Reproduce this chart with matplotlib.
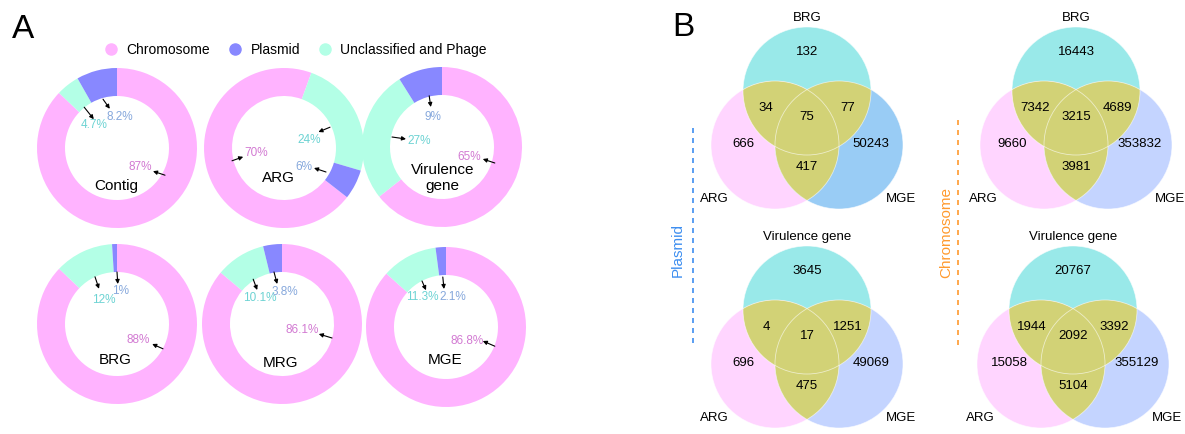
import matplotlib
matplotlib.use("Agg")
import matplotlib.pyplot as plt
from matplotlib.patches import Circle
from matplotlib.lines import Line2D

plt.rcParams["font.family"] = ["Liberation Sans", "DejaVu Sans"]

# ---- panel A data: share of each gene group on chromosome / plasmid / unclassified contigs
donut_names = ["Contig", "ARG", "Virulence\ngene", "BRG", "MRG", "MGE"]
chromosome_pct = [87, 70, 65, 88, 86.1, 86.8]
plasmid_pct = [8.2, 6, 9, 1, 3.8, 2.1]
unclassified_pct = [4.7, 24, 27, 12, 10.1, 11.3]
legend_labels = ["Chromosome", "Plasmid", "Unclassified and Phage"]

# ---- panel B data: region counts in order
# only top, only left, only right, top&left, top&right, left&right, all three
venn_regions = ["top", "left", "right", "top_left", "top_right", "left_right", "all"]
plasmid_brg = [132, 666, 50243, 34, 77, 417, 75]
chromosome_brg = [16443, 9660, 353832, 7342, 4689, 3981, 3215]
plasmid_vir = [3645, 696, 49069, 4, 1251, 475, 17]
chromosome_vir = [20767, 15058, 355129, 1944, 3392, 5104, 2092]

W, H = 1185, 434
C_CHR = "#FFB3FF"
C_PLA = "#8888FF"
C_UNC = "#B3FFE6"
T_CHR = "#D27AD2"
T_PLA = "#86A8DC"
T_UNC = "#6DD3D3"

fig = plt.figure(figsize=(W / 100, H / 100), dpi=100)
bg = fig.add_axes([0, 0, 1, 1])
bg.set_xlim(0, W)
bg.set_ylim(H, 0)
bg.axis("off")

bg.text(12, 30, "A", fontsize=24, ha="left", va="center")
bg.text(672, 27, "B", fontsize=24, ha="left", va="center")

# ---- donuts
R = 80
donut_centers = [(117, 148), (284, 148), (442, 147), (117, 324), (282, 324), (446, 327)]
# pie start angle (degrees, matplotlib convention)
start_angles = [90, -38, 90, 90, 90, 90]
# (tail, head, text) in units of the outer radius, for chromosome / plasmid / unclassified
label_layout = [
    [((0.60, -0.34), (0.45, -0.29), (0.29, -0.24)),
     ((-0.175, 0.61), (-0.09, 0.49), (0.03, 0.39)),
     ((-0.41, 0.51), (-0.29, 0.36), (-0.29, 0.29))],
    [((-0.65, -0.16), (-0.51, -0.11), (-0.35, -0.06)),
     ((0.525, -0.30), (0.375, -0.25), (0.25, -0.24)),
     ((0.575, 0.26), (0.43, 0.20), (0.31, 0.10))],
    [((0.66, -0.20), (0.51, -0.15), (0.34, -0.125)),
     ((-0.16, 0.64), (-0.14, 0.50), (-0.11, 0.375)),
     ((-0.625, 0.125), (-0.45, 0.10), (-0.29, 0.075))],
    [((0.575, -0.31), (0.44, -0.25), (0.26, -0.20)),
     ((0.0, 0.65), (0.01, 0.50), (0.05, 0.41)),
     ((-0.275, 0.59), (-0.225, 0.44), (-0.16, 0.30))],
    [((0.625, -0.175), (0.46, -0.125), (0.25, -0.075)),
     ((-0.10, 0.65), (-0.06, 0.50), (0.04, 0.40)),
     ((-0.36, 0.56), (-0.31, 0.425), (-0.275, 0.325))],
    [((0.61, -0.24), (0.46, -0.175), (0.26, -0.175)),
     ((-0.04, 0.625), (-0.025, 0.475), (0.09, 0.375)),
     ((-0.30, 0.575), (-0.25, 0.46), (-0.30, 0.375))],
]
name_pos = [(-0.01, -0.475), (-0.075, -0.375), (0.01, -0.39),
            (-0.025, -0.45), (-0.025, -0.49), (-0.01, -0.41)]

for i, name in enumerate(donut_names):
    cx, cy = donut_centers[i]
    ax = fig.add_axes([(cx - R) / W, (H - cy - R) / H, 2 * R / W, 2 * R / H])
    vals = [chromosome_pct[i], unclassified_pct[i], plasmid_pct[i]]
    ax.pie(vals, colors=[C_CHR, C_UNC, C_PLA], startangle=start_angles[i],
           counterclock=False, radius=1,
           wedgeprops=dict(width=0.35, edgecolor="none"))
    ax.set_xlim(-1, 1)
    ax.set_ylim(-1, 1)
    ax.set_aspect("auto")
    ax.axis("off")
    pcts = [chromosome_pct[i], plasmid_pct[i], unclassified_pct[i]]
    for (tail, head, txt), v, col in zip(label_layout[i], pcts, [T_CHR, T_PLA, T_UNC]):
        ax.annotate("", xy=head, xytext=tail,
                    arrowprops=dict(arrowstyle="-|>", color="black", lw=0.8,
                                    mutation_scale=6, shrinkA=0, shrinkB=0))
        ax.text(txt[0], txt[1], f"{v:g}%", color=col, fontsize=8.5,
                ha="center", va="center")
    ax.text(name_pos[i][0], name_pos[i][1], name, fontsize=11,
            ha="center", va="center", linespacing=1.2)

handles = [Line2D([], [], marker="o", ls="", color=c, markersize=8)
           for c in [C_CHR, C_PLA, C_UNC]]
fig.legend(handles, legend_labels, loc="center", bbox_to_anchor=(292 / W, 1 - 50 / H),
           ncol=3, frameon=False, fontsize=10, handletextpad=0.1, columnspacing=0.8)

# ---- Venn diagrams
VR = 64
OLIVE = "#D2D276"
C_BRG = "#99E9E9"
C_ARG = "#FFD5FF"
region_offsets = {
    "top": (0, 1.17), "left": (-1.0, -0.27), "right": (1.0, -0.27),
    "top_left": (-0.64, 0.30), "top_right": (0.64, 0.30),
    "left_right": (0, -0.625), "all": (0, 0.16),
}


def draw_venn(cx, cy, counts, top_name, mge_color):
    centers = [(cx, cy - 36), (cx - 32, cy + 18), (cx + 32, cy + 18)]
    for (x, y), col in zip(centers, [C_BRG, C_ARG, mge_color]):
        bg.add_patch(Circle((x, y), VR, fc=col, ec="none", zorder=1))
    # overlaps: each circle clipped by another one
    for a in range(3):
        for b in range(a + 1, 3):
            p = Circle(centers[a], VR, fc=OLIVE, ec="none", zorder=2)
            bg.add_patch(p)
            p.set_clip_path(Circle(centers[b], VR, transform=bg.transData))
    for x, y in centers:
        bg.add_patch(Circle((x, y), VR, fill=False, ec="white", lw=0.6,
                            alpha=0.6, zorder=3))
    for key, n in zip(venn_regions, counts):
        dx, dy = region_offsets[key]
        bg.text(cx + dx * VR, cy - dy * VR, str(n), fontsize=9.5,
                ha="center", va="center", zorder=4)
    bg.text(cx, cy - 1.70 * VR, top_name, fontsize=9.5, ha="center", va="center")
    bg.text(cx - 1.44 * VR, cy + 1.125 * VR, "ARG", fontsize=9.5, ha="center", va="center")
    bg.text(cx + 1.47 * VR, cy + 1.125 * VR, "MGE", fontsize=9.5, ha="center", va="center")


draw_venn(807, 127, plasmid_brg, "BRG", "#99CCF5")
draw_venn(1076, 127, chromosome_brg, "BRG", "#C4D4FF")
draw_venn(807, 346, plasmid_vir, "Virulence gene", "#C4D4FF")
draw_venn(1073, 346, chromosome_vir, "Virulence gene", "#C4D4FF")

bg.plot([693, 693], [128, 343], ls=(0, (3, 3)), color="#3D8EF0", lw=1.2)
bg.text(678, 250, "Plasmid", rotation=90, color="#3D8EF0", fontsize=11,
        ha="center", va="center")
bg.plot([958, 958], [120, 345], ls=(0, (3, 3)), color="#FF9A2E", lw=1.2)
bg.text(946, 232, "Chromosome", rotation=90, color="#FF9A2E", fontsize=11,
        ha="center", va="center")

fig.savefig("out.png", dpi=100)
